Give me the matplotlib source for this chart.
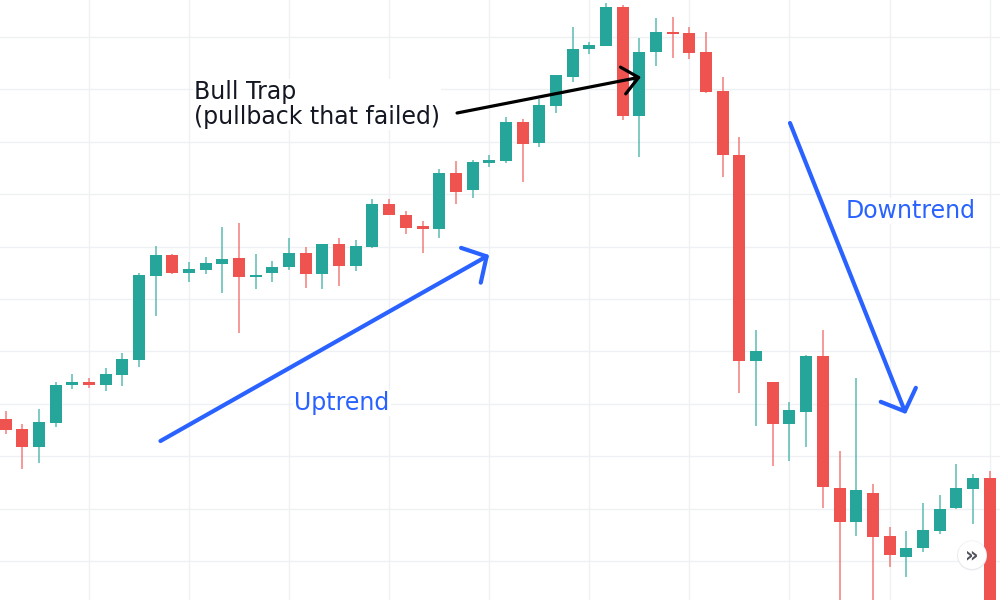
import numpy as np
import matplotlib
matplotlib.use("Agg")
import matplotlib.pyplot as plt
from matplotlib.patches import Circle

# ---- data (arbitrary price units) ----
opens  = [181, 171, 153, 177, 215, 218, 215, 225, 240, 324,
          345, 327, 330, 336, 342, 323, 327, 333, 347, 326,
          356, 334, 353, 396, 385, 374, 371, 427, 410, 437,
          439, 478, 457, 494, 523, 551, 554, 593, 484, 548,
          568, 567, 548, 509, 445, 239, 218, 176, 188, 244,
          112, 78, 107, 64, 43, 52, 69, 92, 111, 122]
highs  = [189, 176, 191, 218, 226, 222, 232, 247, 327, 354,
          346, 338, 343, 373, 377, 346, 339, 362, 353, 356,
          362, 360, 401, 401, 389, 379, 431, 439, 440, 445,
          483, 481, 501, 525, 573, 558, 597, 595, 562, 582,
          583, 573, 568, 523, 463, 270, 218, 198, 245, 270,
          149, 222, 116, 73, 69, 97, 105, 136, 126, 129]
lows   = [166, 131, 137, 173, 211, 212, 209, 214, 233, 284,
          326, 318, 326, 307, 267, 311, 318, 330, 312, 311,
          314, 329, 352, 385, 366, 347, 362, 396, 402, 433,
          437, 418, 453, 487, 518, 546, 554, 480, 443, 534,
          542, 541, 507, 423, 207, 174, 134, 139, 153, 92,
          -10, 64, -10, 33, 23, 48, 66, 91, 76, -40]
closes = [170, 153, 178, 215, 218, 215, 226, 241, 325, 345,
          327, 331, 337, 341, 323, 325, 333, 347, 326, 356,
          334, 354, 396, 385, 372, 371, 427, 408, 438, 440,
          478, 456, 495, 525, 551, 555, 593, 484, 548, 568,
          566, 547, 508, 445, 239, 249, 176, 190, 244, 113,
          78, 110, 63, 45, 52, 70, 91, 112, 122, -30]

labels = ["Bull Trap\n(pullback that failed)", "Uptrend", "Downtrend"]

UP = "#26a69a"
DOWN = "#ef5350"
BLUE = "#2962ff"

o = np.array(opens, float)
h = np.array(highs, float)
l = np.array(lows, float)
c = np.array(closes, float)
x = np.arange(len(o))
cols = np.where(c >= o, UP, DOWN)

fig = plt.figure(figsize=(10, 6), dpi=100)
ax = fig.add_axes([0, 0, 1, 1])
ax.set_xlim(-0.33, 59.62)
ax.set_ylim(0, 600)

# grid
ax.set_xticks(np.arange(5, 60, 6))
ax.set_yticks(np.arange(39, 600, 52.4))
ax.grid(True, color="#eef0f4", linewidth=1)
ax.tick_params(left=False, bottom=False, labelleft=False, labelbottom=False)
for s in ax.spines.values():
    s.set_visible(False)
ax.set_axisbelow(True)

# candles
ax.vlines(x, l, h, colors=cols, linewidth=1.1, alpha=0.75, zorder=2)
body = np.where(np.abs(c - o) < 1.5, np.sign(c - o + 1e-9) * 1.5, c - o)
ax.bar(x, body, bottom=o, width=0.72, color=cols, linewidth=0, zorder=3)

# annotations
txt_kw = dict(fontsize=17, family="DejaVu Sans", zorder=5,
              bbox=dict(facecolor="white", edgecolor="none", pad=1))
ax.text(11.3, 476, labels[0], color="#131722", va="baseline", ha="left",
        linespacing=1.05, **txt_kw)
ax.text(17.3, 190, labels[1], color=BLUE, va="baseline", ha="left", **txt_kw)
ax.text(50.39, 382, labels[2], color=BLUE, va="baseline", ha="left", **txt_kw)

def arrow(start, tip, color, lw, hl, hw):
    ax.annotate("", xy=tip, xytext=start,
                arrowprops=dict(arrowstyle=f"->,head_length={hl},head_width={hw}",
                                color=color, lw=lw, shrinkA=0, shrinkB=0,
                                mutation_scale=20, capstyle="round",
                                joinstyle="round"),
                zorder=6)

arrow((27.07, 487), (38.10, 523), "black", 2.3, 0.57, 0.49)
arrow((9.29, 159), (28.99, 345), BLUE, 3.0, 0.65, 0.72)
arrow((47.03, 477), (53.98, 186), BLUE, 3.0, 0.64, 0.68)

# scroll button
sh = Circle((9.72, 0.445), 0.15, transform=fig.dpi_scale_trans,
            facecolor="#e9ebf0", edgecolor="none", zorder=7)
btn = Circle((9.72, 0.45), 0.14, transform=fig.dpi_scale_trans,
             facecolor="white", edgecolor="none", zorder=8)
fig.patches.extend([sh, btn])
fig.text(972 / 1000, 45 / 600, "»", ha="center", va="center", fontsize=15,
         color="#50535e", fontweight="bold", zorder=9)

fig.savefig("out.png", dpi=100)
